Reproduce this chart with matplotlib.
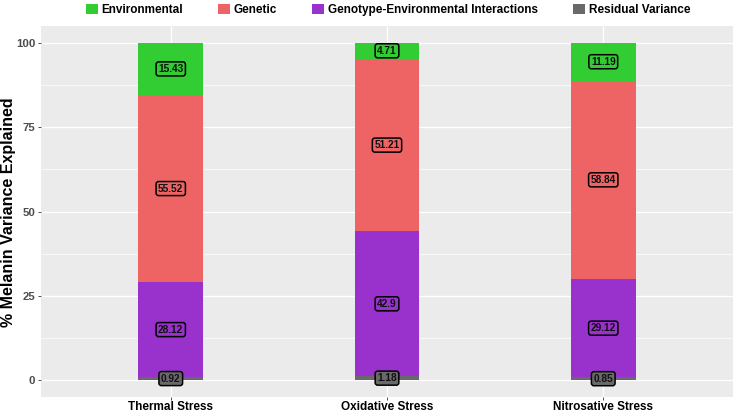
import matplotlib
matplotlib.use("Agg")
import matplotlib.pyplot as plt
from matplotlib.patches import Patch
import numpy as np

plt.rcParams['font.family'] = ['Liberation Sans', 'DejaVu Sans']

categories = ["Thermal Stress", "Oxidative Stress", "Nitrosative Stress"]
residual = [0.92, 1.18, 0.85]
gxe = [28.12, 42.9, 29.12]
genetic = [55.52, 51.21, 58.84]
environmental = [15.43, 4.71, 11.19]

series = [
    ("Residual Variance", residual, "#696969"),
    ("Genotype-Environmental Interactions", gxe, "#9932CC"),
    ("Genetic", genetic, "#EE6363"),
    ("Environmental", environmental, "#32CD32"),
]

W, H = 733, 412
fig = plt.figure(figsize=(W / 100, H / 100), dpi=100)
ax = fig.add_axes([41 / W, (412 - 397) / H, (733 - 41) / W, (397 - 26) / H])
ax.set_facecolor("#EBEBEB")
for s in ax.spines.values():
    s.set_visible(False)

x = np.arange(1, len(categories) + 1)
bottom = np.zeros(len(categories))
for name, vals, col in series:
    vals = np.array(vals)
    ax.bar(x, vals, width=0.3, bottom=bottom, color=col, zorder=2)
    for xi, b, v in zip(x, bottom, vals):
        ax.text(xi, b + v / 2, f"{v:g}", ha="center", va="center",
                fontsize=7.3, fontweight="bold", color="#111111", zorder=4,
                bbox=dict(boxstyle="round,pad=0.2,rounding_size=0.25",
                          fc=col, ec="black", lw=1.1))
    bottom += vals

ax.set_xlim(0.4, 3.6)
ax.set_ylim(-5, 105)
ax.set_yticks([0, 25, 50, 75, 100])
ax.set_yticks([12.5, 37.5, 62.5, 87.5], minor=True)
ax.set_xticks(x)
ax.set_xticklabels(categories, fontsize=8.5, fontweight="bold", color="black")
ax.tick_params(axis="y", labelsize=8.2, labelcolor="#4D4D4D", length=2.5,
               color="#333333", width=0.6, pad=1.5)
for lab in ax.get_yticklabels():
    lab.set_fontweight("bold")
ax.tick_params(axis="x", length=2.5, color="#333333", width=0.6, pad=0.6)
ax.tick_params(axis="y", which="minor", length=0)
ax.grid(True, which="major", color="white", lw=1.0, zorder=0)
ax.grid(True, which="minor", axis="y", color="white", lw=0.5, zorder=0)
ax.set_axisbelow(True)

fig.text(9 / W, 1 - 212 / H, "% Melanin Variance Explained", rotation=90,
         ha="center", va="center", fontsize=11.5, fontweight="bold",
         color="black")

handles = [Patch(facecolor=c, edgecolor="none", label=n) for n, _, c in
           [series[3], series[2], series[1], series[0]]]
fig.legend(handles=handles, loc="center", bbox_to_anchor=(388 / W, 1 - 10 / H),
           ncol=4, frameon=False, handlelength=1.0,
           handleheight=1.0, handletextpad=0.3, columnspacing=3.0,
           borderpad=0, borderaxespad=0,
           prop=dict(weight="bold", size=8.5))

fig.savefig("out.png", dpi=100)
